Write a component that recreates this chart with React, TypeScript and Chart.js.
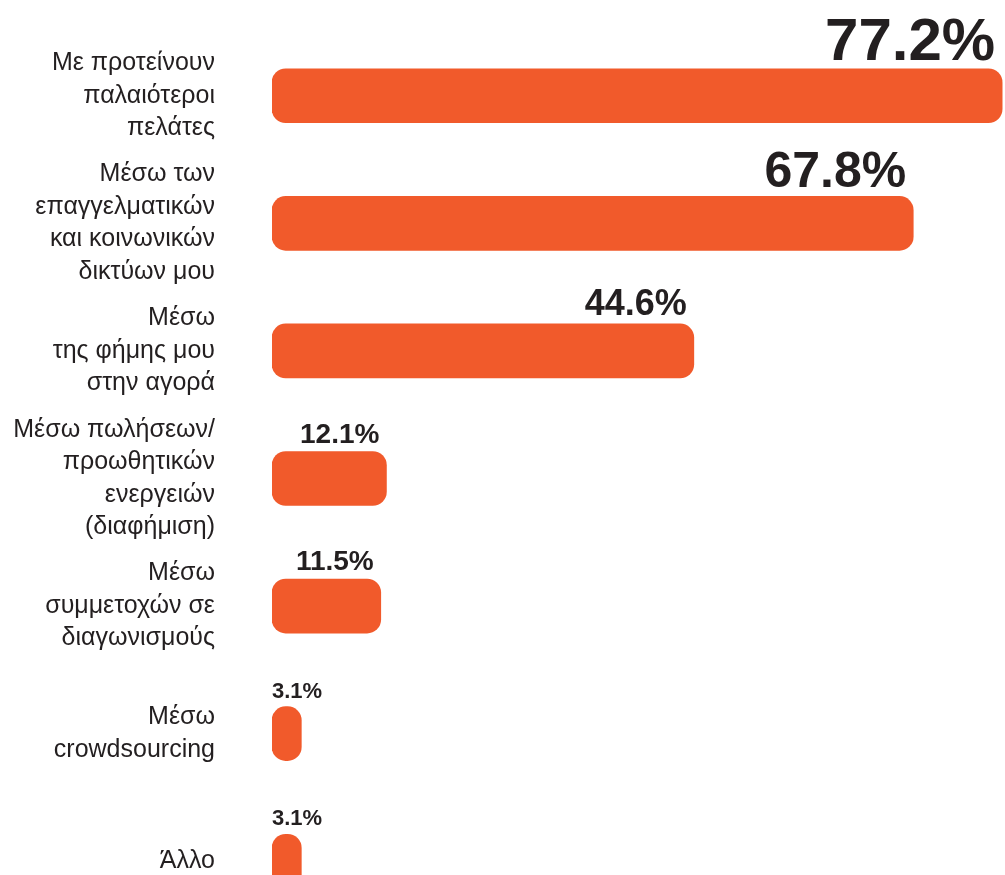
import React, { useEffect, useRef } from "react";
import { Chart, registerables } from "chart.js";

Chart.register(...registerables);

const categories: string[][] = [
  ["Με προτείνουν", "παλαιότεροι", "πελάτες"],
  ["Μέσω των", "επαγγελματικών", "και κοινωνικών", "δικτύων μου"],
  ["Μέσω", "της φήμης μου", "στην αγορά"],
  ["Μέσω πωλήσεων/", "προωθητικών", "ενεργειών", "(διαφήμιση)"],
  ["Μέσω", "συμμετοχών σε", "διαγωνισμούς"],
  ["Μέσω", "crowdsourcing"],
  ["Άλλο"],
];

const values: number[] = [77.2, 67.8, 44.6, 12.1, 11.5, 3.1, 3.1];

const valueLabels: string[] = ["77.2%", "67.8%", "44.6%", "12.1%", "11.5%", "3.1%", "3.1%"];

// style: font size for each value label
const labelFontSizes: number[] = [60, 50, 36, 28, 28, 22, 22];

const BAR_COLOR = "#F15A2B";
const TEXT_COLOR = "#231F20";

const valueLabelPlugin = {
  id: "valueLabels",
  afterDatasetsDraw(chart: any) {
    const ctx = chart.ctx;
    const meta = chart.getDatasetMeta(0);
    ctx.save();
    meta.data.forEach((bar: any, i: number) => {
      const size = labelFontSizes[i];
      ctx.font = `bold ${size}px "Liberation Sans", Arial, sans-serif`;
      ctx.fillStyle = TEXT_COLOR;
      ctx.textBaseline = "alphabetic";
      ctx.textAlign = "left";
      const text = valueLabels[i];
      const w = ctx.measureText(text).width;
      const barTop = bar.y - bar.height / 2;
      const x = Math.max(bar.base, bar.x - w - 7);
      ctx.fillText(text, x, barTop - 9);
    });
    ctx.restore();
  },
};

export default function App() {
  const canvasRef = useRef<HTMLCanvasElement | null>(null);

  useEffect(() => {
    const canvas = canvasRef.current;
    if (!canvas) return;
    const chart = new Chart(canvas, {
      type: "bar",
      data: {
        labels: categories,
        datasets: [
          {
            data: values,
            backgroundColor: BAR_COLOR,
            borderRadius: 14,
            borderSkipped: false,
            barThickness: 54,
          },
        ],
      },
      options: {
        indexAxis: "y",
        responsive: false,
        animation: false,
        layout: { padding: { top: 32, bottom: 0, left: 0, right: 0 } },
        plugins: {
          legend: { display: false },
          tooltip: { enabled: false },
        },
        scales: {
          x: {
            display: false,
            min: 0,
            max: 77.5,
          },
          y: {
            grid: { display: false, drawTicks: false },
            border: { display: false },
            afterFit: (scale: any) => {
              scale.width = 272;
              scale.paddingTop = 0;
              scale.paddingBottom = 0;
            },
            ticks: {
              autoSkip: false,
              padding: 57,
              color: TEXT_COLOR,
              font: {
                family: '"Liberation Sans", Arial, sans-serif',
                size: 25,
                lineHeight: 1.3,
              },
            },
          },
        },
      },
      plugins: [valueLabelPlugin],
    });
    return () => chart.destroy();
  }, []);

  return (
    <div
      style={{
        position: "absolute",
        left: 0,
        top: 0,
        width: 1005,
        height: 875,
        overflow: "hidden",
        background: "#ffffff",
      }}
    >
      <canvas ref={canvasRef} width={1005} height={925} style={{ display: "block" }} />
    </div>
  );
}
